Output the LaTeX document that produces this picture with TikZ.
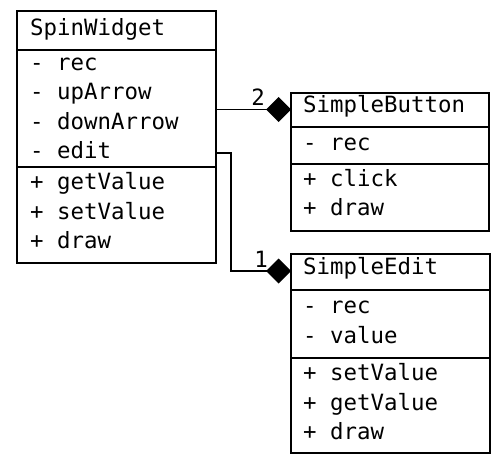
\documentclass[tikz,border=0pt]{standalone}
\usepackage{fontspec}
\setmonofont{DejaVu Sans Mono}
\usetikzlibrary{arrows.meta}
\begin{document}
\begin{tikzpicture}[x=1pt,y=-1pt,
  box/.style={draw,line width=2.8pt,inner sep=0pt,outer sep=0pt,anchor=north west},
  txt/.style={inner sep=0pt,anchor=mid west,font=\ttfamily\fontsize{22.4}{26}\selectfont},
  sep/.style={line width=2.8pt},
  link/.style={line width=1.9pt,-{Diamond[length=25pt,width=25pt]}},
  mult/.style={inner sep=0pt,font=\ttfamily\fontsize{22.4}{26}\selectfont}]
\useasboundingbox (0,0) rectangle (493,460);
% SpinWidget
\node[box,minimum width=199pt,minimum height=252pt] (sw) at (17,11) {};
\coordinate (swa) at (0,50);
\coordinate (swb) at (0,167);
\draw[sep] (sw.west |- swa) -- (sw.east |- swa);
\draw[sep] (sw.west |- swb) -- (sw.east |- swb);
\node[txt] (sw0) at (30,33) {SpinWidget};
\node[txt] (sw1) at (30,68) {- rec};
\node[txt] (sw2) at (30,97.5) {- upArrow};
\node[txt] (sw3) at (30,127) {- downArrow};
\node[txt] (sw4) at (30,156.5) {- edit};
\node[txt] (sw5) at (30,187.5) {+ getValue};
\node[txt] (sw6) at (30,217) {+ setValue};
\node[txt] (sw7) at (30,246.5) {+ draw};
% SimpleButton
\node[box,minimum width=198pt,minimum height=138pt] (sb) at (291,93) {};
\coordinate (sba) at (0,127);
\coordinate (sbb) at (0,164);
\draw[sep] (sb.west |- sba) -- (sb.east |- sba);
\draw[sep] (sb.west |- sbb) -- (sb.east |- sbb);
\node[txt] (sb0) at (303,110) {SimpleButton};
\node[txt] (sb1) at (303,148) {- rec};
\node[txt] (sb2) at (303,184) {+ click};
\node[txt] (sb3) at (303,213) {+ draw};
% SimpleEdit
\node[box,minimum width=199pt,minimum height=199pt] (se) at (291,254) {};
\coordinate (sea) at (0,290);
\coordinate (seb) at (0,358);
\draw[sep] (se.west |- sea) -- (se.east |- sea);
\draw[sep] (se.west |- seb) -- (se.east |- seb);
\node[txt] (se0) at (303,272) {SimpleEdit};
\node[txt] (se1) at (303,311.5) {- rec};
\node[txt] (se2) at (303,341) {- value};
\node[txt] (se3) at (303,378) {+ setValue};
\node[txt] (se4) at (303,408) {+ getValue};
\node[txt] (se5) at (303,437) {+ draw};
% connectors
\coordinate (y1) at (0,109.5);
\draw[link] (sw.east |- y1) -- (sb.west |- y1);
\node[mult] (m2) at (258,97) {2};
\coordinate (b1) at (231,153);
\coordinate (b2) at (231,271);
\draw[link] (sw.east |- b1) -- (b1) -- (b2) -- (se.west |- b2);
\node[mult] (m1) at (261,259) {1};
\end{tikzpicture}
\end{document}
